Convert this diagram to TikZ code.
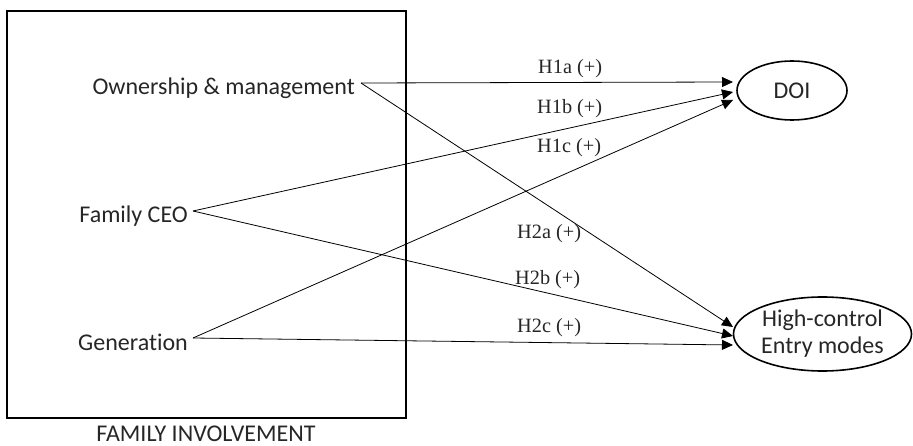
\documentclass[tikz,border=0pt]{standalone}
\usepackage{fontspec}
\setmainfont{Carlito}[Ligatures=NoCommon]
\newfontfamily\labelfont{Liberation Serif}
\usetikzlibrary{arrows.meta,shapes.geometric}
\begin{document}
\begin{tikzpicture}[x=1pt,y=-1pt,
  every node/.style={inner sep=0pt, text=black!85},
  factor/.style={font=\fontsize{24}{27}\selectfont, anchor=base east},
  outcome/.style={draw, ellipse, line width=1.6pt, font=\fontsize{24}{27}\selectfont, align=center},
  hyp/.style={font=\labelfont\fontsize{20.3}{23}\selectfont, anchor=base west},
  hpath/.style={line width=0.8pt, -{Triangle[length=11pt,width=10pt]}}]
\useasboundingbox (0,0) rectangle (913,446);

% family involvement block
\node[draw, line width=1.6pt, minimum width=399pt, minimum height=407pt] (box) at (206.5,214.5) {};
\node[factor, anchor=base] (fi) at (206,441.5) {FAMILY INVOLVEMENT};

% antecedents
\node[factor] (own) at (355,95) {Ownership \& management};
\node[factor] (ceo) at (188,223) {Family CEO};
\node[factor] (gen) at (188,350) {Generation};
\coordinate (own-o) at (361,83);
\coordinate (ceo-o) at (193,211);
\coordinate (gen-o) at (193,338);

% outcomes
\node[outcome, minimum width=110pt, minimum height=59pt] (doi) at (792,90.5) {DOI};
\node[outcome, minimum width=178pt, minimum height=74pt] (hc) at (822.5,334) {High-control\\Entry modes};
\coordinate (doi-a) at (733,82);
\coordinate (doi-b) at (733,92);
\coordinate (doi-c) at (733,100);
\coordinate (hc-a) at (733,327);
\coordinate (hc-b) at (733,336);
\coordinate (hc-c) at (733,345);

% hypothesised paths
\draw[hpath] (own-o) -- (doi-a);
\draw[hpath] (ceo-o) -- (doi-b);
\draw[hpath] (gen-o) -- (doi-c);
\draw[hpath] (own-o) -- (hc-a);
\draw[hpath] (ceo-o) -- (hc-b);
\draw[hpath] (gen-o) -- (hc-c);

% path labels
\node[hyp] (h1a) at (538,74) {H1a (+)};
\node[hyp] (h1b) at (537,114) {H1b (+)};
\node[hyp] (h1c) at (537,153) {H1c (+)};
\node[hyp] (h2a) at (517,239) {H2a (+)};
\node[hyp] (h2b) at (515,285) {H2b (+)};
\node[hyp] (h2c) at (517,333) {H2c (+)};
\end{tikzpicture}
\end{document}
